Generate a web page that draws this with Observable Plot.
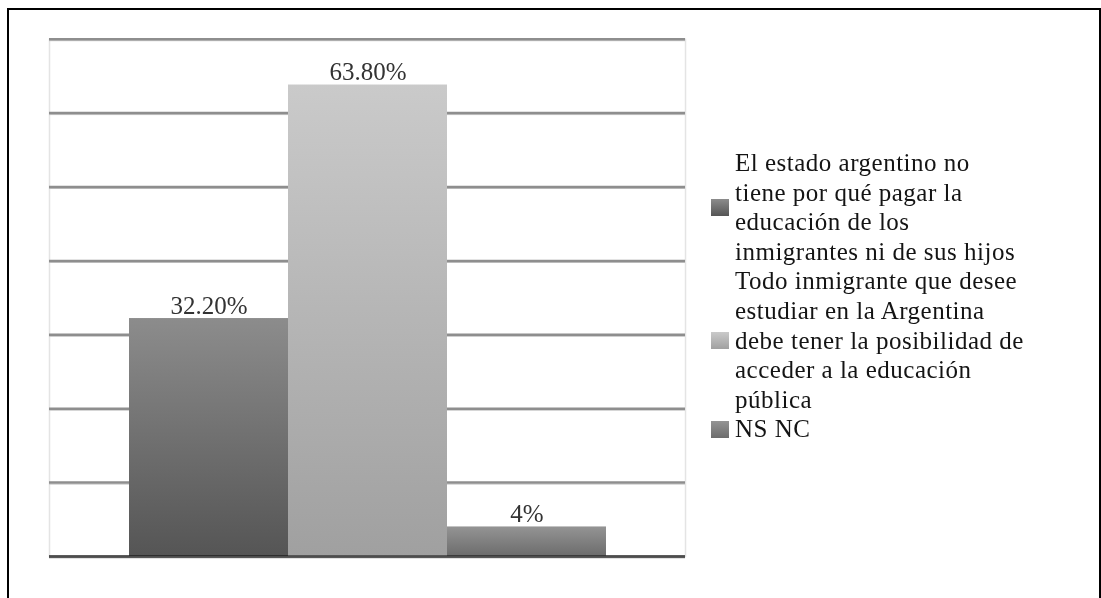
<!DOCTYPE html>
<html>
<head>
<meta charset="utf-8">
<script src="https://cdn.jsdelivr.net/npm/d3@7"></script>
<script src="https://cdn.jsdelivr.net/npm/@observablehq/plot@0.6"></script>
<style>
  html, body { margin: 0; padding: 0; background: #fff; }
  #page { position: relative; width: 1101px; height: 598px; overflow: hidden; }
  #box {
    position: absolute; left: 7px; top: 8px; width: 1090px; height: 700px;
    border-left: 2px solid #000; border-top: 2px solid #000; border-right: 2px solid #000;
  }
  #chart { position: absolute; left: 0; top: 0; }
  #legend {
    position: absolute; left: 711px; top: 148px;
    font-family: "Liberation Serif", "Times New Roman", serif;
    font-size: 25px; line-height: 29.6px; letter-spacing: 0.5px; color: #141414;
  }
  .entry { display: flex; align-items: center; }
  .swatch { width: 18px; height: 17px; margin-right: 6px; flex: none; }
</style>
</head>
<body>
<div id="page">
  <div id="box"></div>
  <div id="chart"></div>
  <div id="legend"></div>
</div>
<script>
// Survey answers (each answer written as the lines shown in the legend)
const answerLines = [
  ["El estado argentino no", "tiene por qué pagar la", "educación de los", "inmigrantes ni de sus hijos"],
  ["Todo inmigrante que desee", "estudiar en la Argentina", "debe tener la posibilidad de", "acceder a la educación", "pública"],
  ["NS NC"]
];
const answers = answerLines.map(lines => lines.join(" "));
// Share of respondents, in percent
const shares = [32.2, 63.8, 4];
const shareLabels = ["32.20%", "63.80%", "4%"];
// Gridlines every ten points
const gridTicks = [0, 10, 20, 30, 40, 50, 60, 70];

// Gray gradient per answer: [top, bottom]
const shades = [["#8c8c8c", "#555555"], ["#cacaca", "#a0a0a0"], ["#949494", "#6c6c6c"]];
const gradIds = answers.map((_, i) => `bar-grad-${i}`);

const rows = answers.map((a, i) => ({answer: a, share: shares[i], label: shareLabels[i]}));

// Defines the gradients used by the bar fills
function gradientDefs() {
  const ns = "http://www.w3.org/2000/svg";
  const defs = document.createElementNS(ns, "defs");
  shades.forEach(([top, bottom], i) => {
    const g = document.createElementNS(ns, "linearGradient");
    g.setAttribute("id", gradIds[i]);
    g.setAttribute("x1", "0"); g.setAttribute("y1", "0");
    g.setAttribute("x2", "0"); g.setAttribute("y2", "1");
    [[0, top], [1, bottom]].forEach(([o, c]) => {
      const s = document.createElementNS(ns, "stop");
      s.setAttribute("offset", o);
      s.setAttribute("stop-color", c);
      g.appendChild(s);
    });
    defs.appendChild(g);
  });
  return defs;
}

const chart = Plot.plot({
  width: 700,
  height: 598,
  marginLeft: 49,
  marginRight: 15,
  marginTop: 38.7,
  marginBottom: 42,
  style: {background: "transparent", fontFamily: "'Liberation Serif', serif"},
  x: {domain: answers, paddingInner: 0, paddingOuter: 0.5, axis: null},
  y: {domain: [0, 70], axis: null},
  color: {domain: answers, range: gradIds.map(id => `url(#${id})`)},
  marks: [
    gradientDefs,
    Plot.frame({stroke: "#e4e4e4", strokeWidth: 1.5}),
    Plot.ruleY(gridTicks, {stroke: "#c4c4c4", strokeWidth: 1, dy: 1.5}),
    Plot.ruleY(gridTicks, {stroke: "#8e8e8e", strokeWidth: 2.5}),
    Plot.barY(rows, {x: "answer", y: "share", fill: "answer"}),
    Plot.ruleY([0], {stroke: "#8a8a8a", strokeWidth: 3, mixBlendMode: "multiply"}),
    Plot.text(rows, {
      x: "answer", y: "share", text: "label",
      lineAnchor: "bottom", dy: -5,
      fontSize: 25, fill: "#333333",
      style: "letter-spacing:1px"
    })
  ]
});
document.getElementById("chart").appendChild(chart);

// Legend beside the plot
const legend = d3.select("#legend");
answerLines.forEach((lines, i) => {
  const entry = legend.append("div").attr("class", "entry");
  entry.append("div").attr("class", "swatch")
    .style("background", `linear-gradient(${shades[i][0]}, ${shades[i][1]})`);
  entry.append("div").html(lines.join("<br>"));
});
</script>
</body>
</html>
